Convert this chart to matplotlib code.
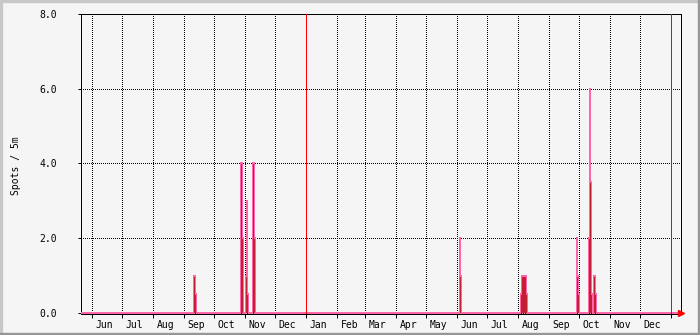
"""Spot count chart, rrdtool style (monthly grid, year markers)."""

import matplotlib
matplotlib.use("Agg")
import matplotlib.pyplot as plt
from matplotlib.patches import Rectangle
import pandas as pd

# ---------------------------------------------------------------------------
# Data
# ---------------------------------------------------------------------------

range_start = "2018-05-21 12:00"
range_days = 600

spot_days = [
    "2018-09-10", "2018-09-11", "2018-09-12",
    "2018-10-27", "2018-10-28", "2018-10-29",
    "2018-11-01", "2018-11-02", "2018-11-03",
    "2018-11-08", "2018-11-09", "2018-11-10",
    "2019-06-03", "2019-06-04",
    "2019-08-03", "2019-08-04", "2019-08-05", "2019-08-06", "2019-08-07",
    "2019-08-08", "2019-08-09",
    "2019-09-28", "2019-09-29", "2019-09-30",
    "2019-10-10", "2019-10-11", "2019-10-12", "2019-10-13",
    "2019-10-15", "2019-10-16", "2019-10-17",
]
spot_values = [
    1.0, 1.0, 0.5,
    4.0, 4.0, 2.0,
    1.0, 3.0, 0.5,
    4.0, 4.0, 2.0,
    2.0, 1.0,
    0.5, 1.0, 1.0, 1.0, 1.0,
    1.0, 0.5,
    2.0, 1.0, 0.5,
    2.0, 6.0, 3.5, 0.5,
    1.0, 1.0, 0.5,
]

year_marks = ["2019-01-01", "2020-01-01"]
month_labels = ["Jun", "Jul", "Aug", "Sep", "Oct", "Nov", "Dec",
                "Jan", "Feb", "Mar", "Apr", "May", "Jun", "Jul",
                "Aug", "Sep", "Oct", "Nov", "Dec"]
y_ticks = [0.0, 2.0, 4.0, 6.0, 8.0]

# ---------------------------------------------------------------------------
# Style
# ---------------------------------------------------------------------------

BG = "#F5F5F5"
FILL = "#C41E32"
LINE = "#FF66AA"
FONT = "DejaVu Sans Mono"
PX = 72 / 100  # one pixel in points

plt.rcParams.update({
    "font.family": FONT,
    "font.size": 7,
    "axes.linewidth": PX,
})

x0 = pd.Timestamp(range_start)
x1 = x0 + pd.Timedelta(days=range_days)

days = pd.date_range(x0.normalize(), x1.normalize(), freq="D")
spots = pd.Series(0.0, index=days)
spots.loc[pd.to_datetime(spot_days)] = spot_values

fig = plt.figure(figsize=(7.0, 3.35), dpi=100)
fig.patch.set_facecolor(BG)
ax = fig.add_axes([81 / 700, 21 / 335, 600 / 700, 300 / 335])
ax.set_facecolor(BG)

# bevelled frame around the canvas
fig.patches.extend([
    Rectangle((0, 1 - 2 / 335), 1, 2 / 335, transform=fig.transFigure,
              color="#C8C8C8", zorder=0),
    Rectangle((0, 0), 2 / 700, 1, transform=fig.transFigure,
              color="#C8C8C8", zorder=0),
    Rectangle((0, 0), 1, 2 / 335, transform=fig.transFigure,
              color="#969696", zorder=0),
    Rectangle((1 - 2 / 700, 0), 2 / 700, 1, transform=fig.transFigure,
              color="#969696", zorder=0),
])

# area for the counts, lighter outline drawn one day later (rrdtool look)
ax.fill_between(spots.index, spots.values, step="post", color=FILL,
                linewidth=0, antialiased=False, zorder=3)
shifted = spots.index + pd.Timedelta(hours=24)
ax.step(shifted, spots.values, where="post", color=LINE, linewidth=PX,
        antialiased=False, zorder=4)

for mark in year_marks:
    ax.axvline(pd.Timestamp(mark), color="#FF0000", linewidth=PX,
               antialiased=False, zorder=5)

ax.set_xlim(x0, x1)
ax.set_ylim(-0.03, 8.0)

month_starts = pd.date_range("2018-06-01", periods=len(month_labels) + 1, freq="MS")
ax.set_xticks(month_starts)
ax.set_xticklabels([])
ax.set_xticks(month_starts[:-1] + pd.Timedelta(days=13), minor=True)
ax.set_xticklabels(month_labels, minor=True)
ax.tick_params(axis="x", which="major", length=3, width=PX, direction="out")
ax.tick_params(axis="x", which="minor", length=0, pad=4)

ax.set_yticks(y_ticks)
ax.set_yticklabels([f"{v:.1f}" for v in y_ticks])
ax.tick_params(axis="y", length=2, width=PX, pad=15)

ax.grid(True, which="major", color="black", linestyle=(0, (1, 2)),
        linewidth=PX, antialiased=False, zorder=1)
ax.set_axisbelow(True)

for side in ("left", "right", "top", "bottom"):
    ax.spines[side].set_color("black")
    ax.spines[side].set_antialiased(False)

# arrow at the end of the time axis
ax.plot([1.0], [0.0], marker=">", markersize=5, color="#FF0000",
        transform=ax.get_yaxis_transform(), clip_on=False, zorder=6)

fig.text(16 / 700, 1 - 166 / 335, "Spots / 5m", rotation=90,
         ha="center", va="center", fontsize=7)

fig.savefig("out.png", dpi=100, facecolor=BG)
